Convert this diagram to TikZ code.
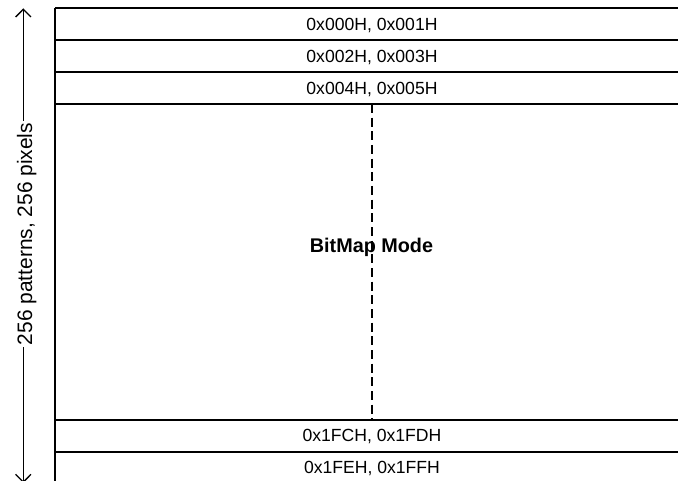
\documentclass[tikz,border=0pt]{standalone}
\usepackage{fontspec}
\setmainfont{Liberation Sans}
\usetikzlibrary{arrows.meta}

\begin{document}
\begin{tikzpicture}[
  x=0.75pt,
  y=-0.75pt,
  line cap=butt,
  row/.style={font=\fontsize{13.2}{15}\selectfont,anchor=base,inner sep=0pt},
  mode/.style={font=\bfseries\fontsize{14.85}{17}\selectfont,anchor=base,inner sep=0pt},
  side/.style={font=\fontsize{15.7}{18}\selectfont,rotate=90,anchor=base,
    fill=white,inner xsep=1.5pt,inner ysep=0pt},
  frame/.style={line width=1.3pt},
  span/.style={line width=1pt,
    {Straight Barb[length=5.8pt,width=11.5pt]}-{Straight Barb[length=5.8pt,width=11.5pt]}},
  split/.style={line width=1.8pt,dash pattern=on 6.75pt off 3.5pt}
]
\useasboundingbox (0,0) rectangle (678,481);

% ------------------------------------------------------------------
% Pattern table
% ------------------------------------------------------------------
\coordinate (tl) at (55,8);
\coordinate (bl) at (55,486);
\draw[frame] (bl) -- (tl);
\foreach \y in {8,40,72,104,420,452}
  \draw[frame] (55,\y) -- (682,\y);

\node[row] (a000) at (372,30.5) {0x000H, 0x001H};
\node[row] (a002) at (372,62.5) {0x002H, 0x003H};
\node[row] (a004) at (372,94.5) {0x004H, 0x005H};
\node[row] (a1FC) at (372,441) {0x1FCH, 0x1FDH};
\node[row] (a1FE) at (372,473) {0x1FEH, 0x1FFH};

% dashed split through the bitmap area
\coordinate (top) at (372,104);
\coordinate (bot) at (372,420);
\draw[split] (top) -- (bot);
\node[mode] (mode) at (371.5,252.3) {BitMap Mode};

% ------------------------------------------------------------------
% Size arrow
% ------------------------------------------------------------------
\coordinate (up) at (23.3,8.3);
\coordinate (down) at (23.3,483);
\draw[span] (down) -- (up);
\node[side] (size) at (32,234) {256 patterns, 256 pixels};

\end{tikzpicture}
\end{document}
